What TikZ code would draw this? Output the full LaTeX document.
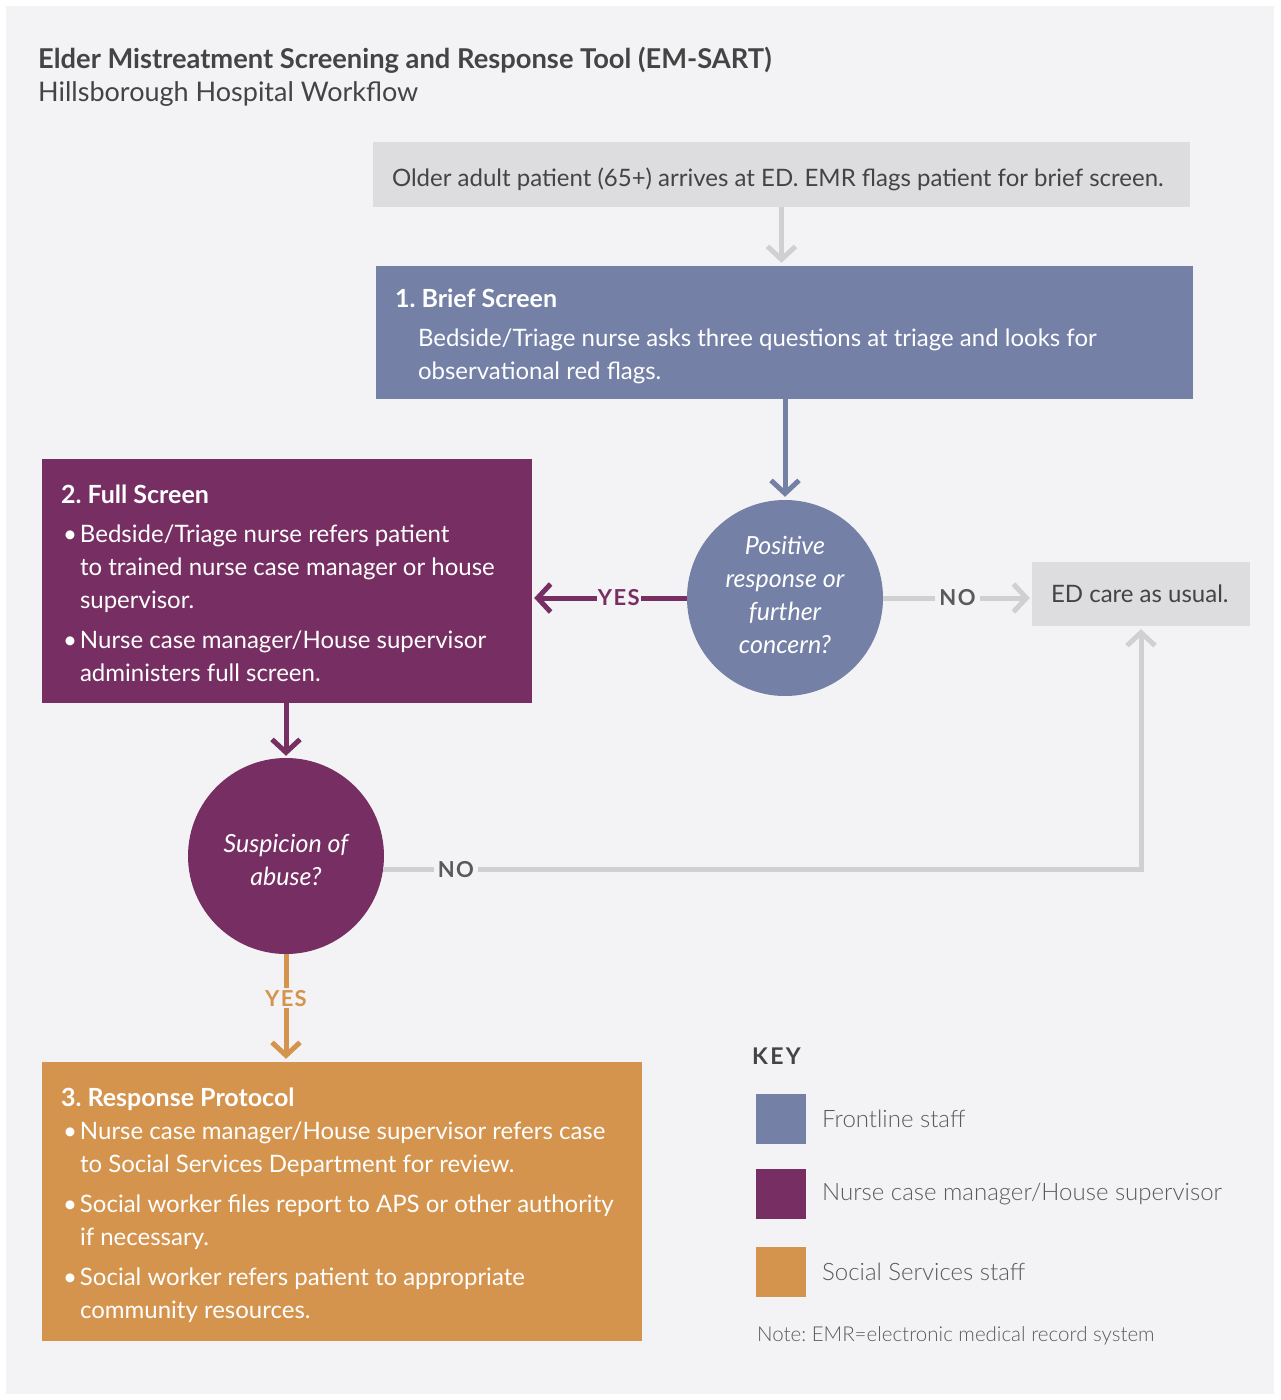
\documentclass[tikz,border=0pt]{standalone}
\usepackage{fontspec}
\setmainfont{Lato}
\newfontfamily\latolight{Lato Light}
\usetikzlibrary{positioning, arrows.meta, shapes}

\definecolor{bgcol}{HTML}{F3F3F5}
\definecolor{frontblue}{HTML}{7480A6}
\definecolor{nursepurple}{HTML}{772F63}
\definecolor{socialorange}{HTML}{D4944E}
\definecolor{boxgray}{HTML}{DDDDDF}
\definecolor{linegray}{HTML}{D0D0D3}
\definecolor{textgray}{HTML}{444444}
\definecolor{keygray}{HTML}{5A5A5A}

\newcommand{\bul}{\makebox[19pt][l]{\hspace{2pt}\textbullet}}
\newcommand{\ind}{\hspace*{19pt}}
\newcommand{\boxtitle}[1]{{\fontsize{25}{33}\selectfont\bfseries #1}}
% natural word spaces inside ragged nodes
\newcommand{\plainspaces}{\spaceskip=0pt\xspaceskip=0pt\hyphenpenalty=10000}

\frenchspacing
\begin{document}
\begin{tikzpicture}[
        x=1pt, y=-1pt,
        every node/.style={inner sep=0pt},
        stepbox/.style={rectangle, align=left, text=white, font=\fontsize{24}{33}\selectfont, inner xsep=19pt},
        question/.style={circle, minimum size=196pt, align=center, text=white, font=\fontsize{25}{33}\selectfont\itshape},
        graybox/.style={rectangle, fill=boxgray, text=textgray, align=left, font=\fontsize{24}{28}\selectfont, inner xsep=19pt},
        flow/.style={line width=5pt, -{Straight Barb[length=13pt, width=28pt]}},
        answer/.style={fill=bgcol, inner xsep=4pt, inner ysep=2pt, font=\fontsize{22}{24}\selectfont\bfseries\addfontfeatures{LetterSpace=6}},
        keybox/.style={rectangle, minimum size=50pt},
        keytext/.style={anchor=west, text=keygray, font=\fontsize{24}{28}\selectfont\latolight}
    ]

    % Hintergrund
    \useasboundingbox (0,0) rectangle (1280,1400);
    \fill[white] (0,0) rectangle (1280,1400);
    \fill[bgcol] (6,6) rectangle (1274,1394);

    % Titel
    \node[anchor=base west, text=textgray, font=\fontsize{27.3}{30}\selectfont\bfseries] (title) at (38,68) {Elder Mistreatment Screening and Response Tool (EM-SART)};
    \node[anchor=base west, text=textgray, font=\fontsize{27}{30}\selectfont] (subtitle) at (38,101) {Hillsborough Hospital Workflow};

    % Ablauf
    \node[graybox, text width=779pt, minimum height=65pt] (arrive) at (781.5,174.5) {\plainspaces\mbox{\rule{0pt}{27.5pt}Older adult patient (65+) arrives at ED. EMR flags patient for brief screen.}};

    \node[stepbox, fill=frontblue, text width=779pt, minimum height=133pt] (brief) at (784.5,332.5) {\plainspaces\rule{0pt}{26.5pt}\boxtitle{1. Brief Screen}\\[6pt]
        \hspace*{23pt}Bedside/Triage nurse asks three questions at triage and looks for\\
        \hspace*{23pt}observational red flags.};

    \node[question, fill=frontblue] (positive) at (785,598) {\plainspaces Positive\\response or\\further\\concern?\rule[-6pt]{0pt}{6pt}};

    \node[stepbox, fill=nursepurple, text width=452pt, minimum height=244pt] (full) at (287,581) {\plainspaces\rule{0pt}{22.5pt}\boxtitle{2. Full Screen}\\[6pt]
        \bul Bedside/Triage nurse refers patient\\
        \ind to trained nurse case manager or house\\
        \ind supervisor.\\[7pt]
        \bul Nurse case manager/House supervisor\\
        \ind administers full screen.};

    \node[graybox, text width=180pt, minimum height=64pt] (usual) at (1141,594) {\plainspaces\mbox{ED care as usual.}};

    \node[question, fill=nursepurple] (suspicion) at (286,856) {\plainspaces\rule{0pt}{26.5pt}Suspicion of\\abuse?};

    \node[stepbox, fill=socialorange, text width=562pt, minimum height=279pt] (response) at (342,1201.5) {\plainspaces\rule{0pt}{26.5pt}\boxtitle{3. Response Protocol}\\
        \bul Nurse case manager/House supervisor refers case\\
        \ind to Social Services Department for review.\\[7pt]
        \bul Social worker files report to APS or other authority\\
        \ind if necessary.\\[7pt]
        \bul Social worker refers patient to appropriate\\
        \ind community resources.};

    % Verbindungen
    \draw[flow, linegray, shorten >=3pt] (arrive.south) -- (arrive.south |- brief.north);
    \draw[flow, frontblue, shorten >=3pt] (brief.south -| positive) -- (positive.north);
    \draw[flow, nursepurple, shorten >=2pt] (positive.west) -- node[answer, text=nursepurple, inner xsep=1pt, pos=0.44] {YES} (positive.west -| full.east);
    \draw[flow, linegray, shorten >=2pt] (positive.east) -- node[answer, text=keygray] {NO} (positive.east -| usual.west);
    \draw[flow, nursepurple, shorten >=2pt] (full.south -| suspicion) -- (suspicion.north);
    \draw[flow, linegray, shorten >=3pt] (suspicion.-8) -- node[answer, text=keygray, pos=0.096] {NO} (suspicion.-8 -| usual.south) -- (usual.south);
    \draw[flow, socialorange, shorten >=3pt] (suspicion.south) -- node[answer, text=socialorange, pos=0.41] {YES} (suspicion.south |- response.north);

    % Legende
    \node[anchor=west, text=textgray, font=\fontsize{23}{26}\selectfont\bfseries\addfontfeatures{LetterSpace=10}] (key) at (752,1056) {KEY};
    \node[keybox, fill=frontblue] (keyfront) at (781,1119) {};
    \node[keybox, fill=nursepurple] (keynurse) at (781,1194) {};
    \node[keybox, fill=socialorange] (keysocial) at (781,1272) {};
    \node[keytext] (frontlbl) at (822,1119) {Frontline staff};
    \node[keytext] (nurselbl) at (822,1194) {Nurse case manager/House supervisor};
    \node[keytext] (sociallbl) at (822,1272) {Social Services staff};
    \node[anchor=west, text=keygray, font=\fontsize{20.5}{24}\selectfont\latolight] (note) at (757,1336) {Note: EMR=electronic medical record system};

\end{tikzpicture}
\end{document}
